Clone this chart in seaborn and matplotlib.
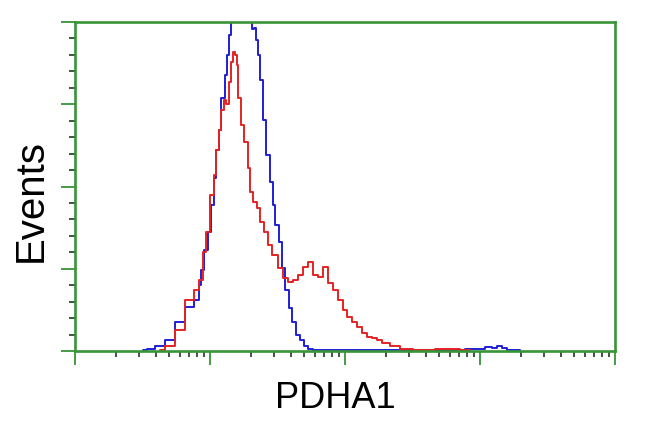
import numpy as np
import matplotlib
matplotlib.use("Agg")
import matplotlib.pyplot as plt
import seaborn as sns

# --- data (x in log10 decades, y in events, 0-100 scale) ---
blue_x = [0.504, 0.556, 0.630, 0.704, 0.778, 0.852, 0.904, 0.926, 0.948, 0.970,
          0.993, 1.015, 1.037, 1.059, 1.074, 1.096, 1.119, 1.133, 1.148, 1.163,
          1.193, 1.222, 1.252, 1.281, 1.304, 1.319, 1.333, 1.348, 1.363, 1.385,
          1.407, 1.430, 1.452, 1.474, 1.496, 1.519, 1.548, 1.570, 1.593, 1.622,
          1.652, 1.681, 1.711, 1.741, 1.785, 1.889, 2.037, 2.259, 2.556, 2.778,
          3.000, 3.074, 3.111, 3.148, 3.185, 3.222, 3.296]
blue_y = [0.3, 0.6, 1.5, 3.3, 8.8, 13.4, 15.5, 20.1, 24.6, 30.7,
          36.2, 44.4, 52.6, 61.1, 67.2, 76.9, 83.9, 90.0, 96.0, 102.0,
          105.0, 107.0, 107.0, 105.0, 101.0, 97.9, 98.2, 94.5, 90.0, 82.4,
          70.2, 59.6, 51.4, 44.4, 38.3, 33.1, 25.2, 18.5, 13.1, 8.8,
          4.9, 3.3, 1.5, 0.6, 0.3, 0.3, 0.3, 0.3, 0.3, 0.3,
          0.6, 1.2, 0.9, 1.5, 0.9, 0.3, 0.3]

red_x = [0.630, 0.704, 0.778, 0.852, 0.904, 0.926, 0.963, 0.985, 1.015, 1.037,
         1.059, 1.074, 1.089, 1.111, 1.133, 1.148, 1.163, 1.178, 1.193, 1.200,
         1.222, 1.244, 1.267, 1.289, 1.311, 1.333, 1.356, 1.385, 1.415, 1.444,
         1.481, 1.519, 1.556, 1.593, 1.630, 1.667, 1.704, 1.741, 1.778, 1.815,
         1.852, 1.889, 1.926, 1.963, 2.000, 2.037, 2.074, 2.111, 2.148, 2.185,
         2.222, 2.259, 2.296, 2.370, 2.444, 2.556, 2.778, 2.926]
red_y = [0.3, 1.5, 6.4, 15.5, 18.5, 21.6, 30.1, 36.2, 47.4, 53.5,
         61.1, 67.2, 73.3, 76.3, 75.1, 81.8, 87.8, 90.9, 89.9, 86.9,
         76.9, 68.7, 63.5, 55.6, 48.3, 45.3, 43.5, 39.2, 36.2, 32.2,
         29.2, 25.2, 22.2, 21.0, 21.6, 23.1, 25.5, 27.1, 23.1, 22.5,
         25.5, 20.7, 18.5, 15.5, 12.5, 10.3, 8.8, 7.3, 5.5, 4.3,
         4.0, 3.3, 2.4, 1.5, 0.6, 0.3, 0.6, 0.3]

x_label = "PDHA1"
y_label = "Events"

GREEN = "#379437"

sns.set_style("white")
plt.rcParams["font.family"] = ["Liberation Sans", "DejaVu Sans"]

fig = plt.figure(figsize=(6.5, 4.32), dpi=100)
ax = fig.add_axes([75 / 650, 1 - 351 / 432, 540 / 650, 329 / 432])

sns.lineplot(x=blue_x, y=blue_y, ax=ax, color="#1f1fd6", linewidth=1.4,
             estimator=None, drawstyle="steps-mid")
sns.lineplot(x=red_x, y=red_y, ax=ax, color="#e52222", linewidth=1.4,
             estimator=None, drawstyle="steps-mid")

ax.set_xlim(0, 4)
ax.set_ylim(0, 100)

# log-style ticks on the decade axis
ax.set_xticks(range(5))
minor_x = [d + np.log10(k) for d in range(4) for k in range(2, 10)]
ax.set_xticks(minor_x, minor=True)
ax.set_yticks([0, 25, 50, 75, 100])
ax.set_yticks([v for v in range(0, 100, 5) if v % 25 != 0], minor=True)
ax.set_xticklabels([])
ax.set_yticklabels([])

for s in ax.spines.values():
    s.set_color(GREEN)
    s.set_linewidth(1.9)

ax.tick_params(which="major", direction="out", length=10, width=1.3, color=GREEN,
               bottom=True, left=True)
ax.tick_params(which="minor", direction="out", length=4.5, width=1.3, color="#2f4a2f",
               bottom=True, left=True)

fig.text(335 / 650, 1 - 408 / 432, x_label, fontsize=26, ha="center", va="baseline",
         color="black")
fig.text(31 / 650, 1 - 200 / 432, y_label, fontsize=29, ha="center", va="center",
         rotation=90, color="black")

fig.savefig("out.png", dpi=100)
